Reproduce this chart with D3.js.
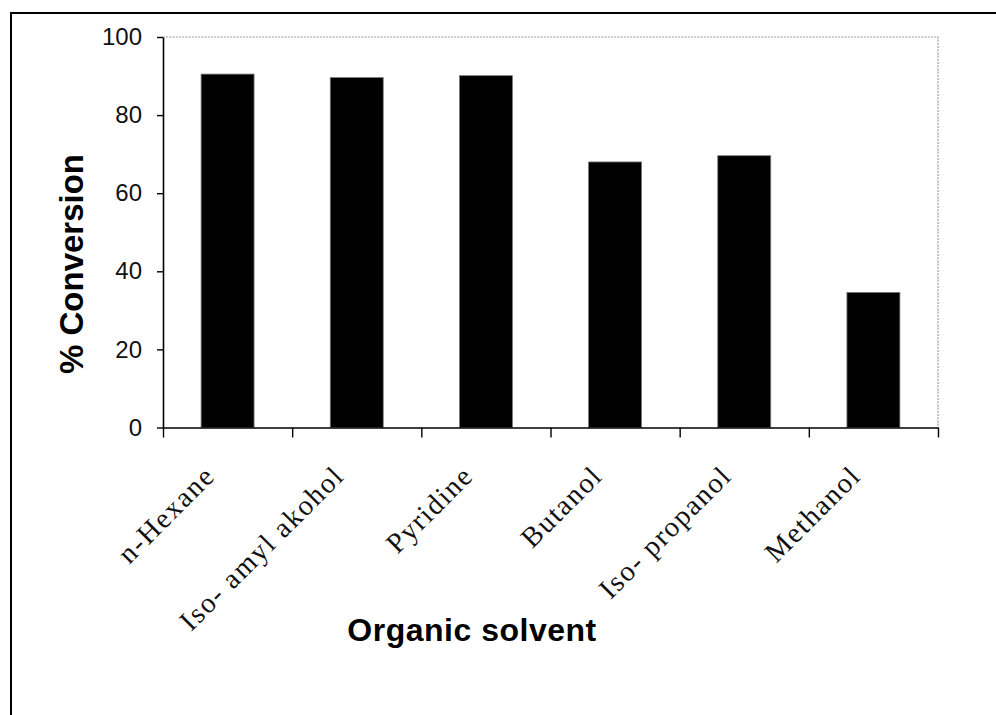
<!DOCTYPE html>
<html lang="en">
<head>
    <meta charset="UTF-8">
    <script src="https://cdn.jsdelivr.net/npm/d3@7"></script>
    <title>% Conversion by organic solvent</title>
    <style>
        body {
            margin: 0;
            background: white;
        }
        .tick text {
            font-family: "Liberation Sans", Arial, sans-serif;
        }
    </style>
</head>
<body>
    <div id="chart"></div>
    <script>
        /*------------------- data --------------------*/
        const solvents = ["n-Hexane", "Iso- amyl akohol", "Pyridine", "Butanol", "Iso- propanol", "Methanol"];
        const conversion = [90.5, 89.6, 90.1, 68.0, 69.6, 34.6];
        const yTicks = [0, 20, 40, 60, 80, 100];

        /*------------------- sizes --------------------*/
        const width = 996, height = 715;
        const plot = { left: 163, right: 938, top: 37, bottom: 427.5 };

        const svg = d3.select("#chart").append("svg")
            .attr("width", width)
            .attr("height", height);

        // outer frame (runs off the right and bottom edge, as in the picture)
        svg.append("rect")
            .attr("x", 11).attr("y", 13)
            .attr("width", width + 20).attr("height", height + 20)
            .attr("fill", "white")
            .attr("stroke", "black")
            .attr("stroke-width", 2);

        const x = d3.scaleBand()
            .domain(solvents)
            .range([plot.left, plot.right])
            .paddingInner(0.59)
            .paddingOuter(0.295);

        // category edges for the tick marks
        const xEdge = d3.scaleLinear()
            .domain([0, solvents.length])
            .range([plot.left, plot.right]);

        const y = d3.scaleLinear()
            .domain([0, 100])
            .range([plot.bottom, plot.top]);

        // dotted plot area border (top and right)
        svg.append("path")
            .attr("d", `M${plot.left},${plot.top}H${plot.right}V${plot.bottom}`)
            .attr("fill", "none")
            .attr("stroke", "#999")
            .attr("stroke-width", 1.2)
            .attr("stroke-dasharray", "2,1.2");

        // bars
        svg.selectAll("rect.bar")
            .data(solvents)
            .enter()
            .append("rect")
            .attr("class", "bar")
            .attr("x", d => x(d))
            .attr("width", x.bandwidth())
            .attr("y", (d, i) => y(conversion[i]))
            .attr("height", (d, i) => y(0) - y(conversion[i]))
            .attr("fill", "black")
            .attr("stroke", "#777")
            .attr("stroke-width", 0.8);

        // y axis
        const yAxis = svg.append("g")
            .attr("transform", `translate(${plot.left},0)`)
            .call(d3.axisLeft(y).tickValues(yTicks).tickSize(6).tickPadding(15).tickSizeOuter(0));
        yAxis.select(".domain").attr("stroke", "black").attr("stroke-width", 1.6);
        yAxis.selectAll(".tick line").attr("stroke", "black").attr("stroke-width", 1.4);
        yAxis.selectAll(".tick text")
            .attr("font-size", 24)
            .attr("fill", "#111");

        // x axis
        const xAxis = svg.append("g")
            .attr("transform", `translate(0,${plot.bottom})`)
            .call(d3.axisBottom(xEdge).tickValues(d3.range(solvents.length + 1)).tickSize(10).tickFormat("").tickSizeOuter(0));
        xAxis.select(".domain").attr("stroke", "black").attr("stroke-width", 1.6);
        xAxis.selectAll(".tick line").attr("stroke", "black").attr("stroke-width", 1.4);

        // rotated category labels
        svg.selectAll("text.cat")
            .data(solvents)
            .enter()
            .append("text")
            .attr("class", "cat")
            .attr("transform", d => `translate(${x(d) + x.bandwidth() / 2 - 11},${plot.bottom + 50}) rotate(-45)`)
            .attr("text-anchor", "end")
            .attr("font-family", "'Liberation Serif', 'Times New Roman', serif")
            .attr("font-size", 28.5)
            .attr("letter-spacing", 1.6)
            .attr("fill", "#111")
            .text(d => d);

        // axis titles
        svg.append("text")
            .attr("transform", "translate(83,264) rotate(-90)")
            .attr("text-anchor", "middle")
            .attr("font-family", "'Liberation Sans', Arial, sans-serif")
            .attr("font-weight", "bold")
            .attr("font-size", 33)
            .text("% Conversion");

        svg.append("text")
            .attr("x", 472)
            .attr("y", 641)
            .attr("text-anchor", "middle")
            .attr("font-family", "'Liberation Sans', Arial, sans-serif")
            .attr("font-weight", "bold")
            .attr("font-size", 32)
            .attr("letter-spacing", 0.5)
            .text("Organic solvent");
    </script>
</body>
</html>
